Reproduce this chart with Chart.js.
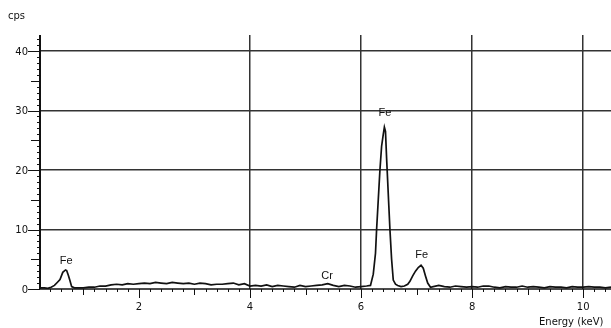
<!DOCTYPE html>
<html>
<head>
<meta charset="utf-8">
<script src="https://cdn.jsdelivr.net/npm/chart.js@4.4.1/dist/chart.umd.min.js"></script>
<style>
  html, body { margin: 0; padding: 0; background: #fff; }
  #wrap { position: relative; width: 611px; height: 328px; }
</style>
</head>
<body>
<div id="wrap"><canvas id="spec"></canvas></div>
<script>
// spectrum (energy in keV, counts in cps)
const energy = [
  0.22, 0.30, 0.36, 0.42, 0.48, 0.53, 0.58, 0.63, 0.68, 0.70, 0.73, 0.76, 0.79, 0.84, 0.90,
  1.00, 1.10, 1.20, 1.30, 1.40, 1.50, 1.60, 1.70, 1.80, 1.90, 2.00,
  2.10, 2.20, 2.30, 2.40, 2.50, 2.60, 2.70, 2.80, 2.90, 3.00,
  3.10, 3.20, 3.30, 3.40, 3.50, 3.60, 3.70, 3.80, 3.90, 4.00,
  4.10, 4.20, 4.30, 4.40, 4.50, 4.60, 4.70, 4.80, 4.90, 5.00,
  5.10, 5.20, 5.30, 5.40, 5.50, 5.60, 5.70, 5.80, 5.90, 6.00, 6.10,
  6.17, 6.22, 6.26, 6.28, 6.31, 6.34, 6.37, 6.40, 6.42, 6.44, 6.46, 6.47, 6.50, 6.52, 6.55, 6.58,
  6.62, 6.66, 6.72, 6.78, 6.84, 6.88, 6.93, 6.98, 7.03, 7.08, 7.12, 7.16, 7.20, 7.25, 7.30,
  7.40, 7.50, 7.60, 7.70, 7.80, 7.90, 8.00, 8.10, 8.20, 8.30, 8.40, 8.50, 8.60, 8.70, 8.80,
  8.90, 9.00, 9.10, 9.20, 9.30, 9.40, 9.50, 9.60, 9.70, 9.80, 9.90, 10.00, 10.10, 10.20, 10.30, 10.40, 10.50
];
const counts = [
  0.2, 0.2, 0.1, 0.3, 0.6, 1.1, 1.6, 2.8, 3.2, 3.1, 2.3, 1.4, 0.4, 0.2, 0.2,
  0.2, 0.3, 0.3, 0.5, 0.5, 0.7, 0.8, 0.7, 0.9, 0.8, 0.9,
  1.0, 0.9, 1.1, 1.0, 0.9, 1.1, 1.0, 0.9, 1.0, 0.8,
  1.0, 0.9, 0.7, 0.8, 0.8, 0.9, 1.0, 0.7, 0.9, 0.5,
  0.6, 0.5, 0.7, 0.4, 0.6, 0.5, 0.4, 0.3, 0.6, 0.4,
  0.5, 0.6, 0.7, 0.9, 0.6, 0.4, 0.6, 0.5, 0.3, 0.4, 0.5,
  0.6, 2.5, 6.0, 10.0, 15.0, 20.0, 24.0, 26.0, 27.2, 26.5, 22.0, 20.0, 14.0, 10.0, 5.0, 1.5,
  0.8, 0.6, 0.4, 0.5, 0.8, 1.3, 2.2, 3.0, 3.6, 4.0, 3.5, 2.2, 1.0, 0.3, 0.4,
  0.6, 0.4, 0.3, 0.5, 0.4, 0.3, 0.4, 0.3, 0.5, 0.5, 0.3, 0.2, 0.4, 0.3, 0.3,
  0.5, 0.3, 0.4, 0.3, 0.2, 0.4, 0.3, 0.3, 0.2, 0.4, 0.3, 0.3, 0.4, 0.3, 0.3, 0.2, 0.3
];

const xTickLabels = [2, 4, 6, 8, 10];
const yTickLabels = [0, 10, 20, 30, 40];

// peak annotations: text, energy, count level of the label
const peakNames = ["Fe", "Cr", "Fe", "Fe"];
const peakEnergy = [0.69, 5.39, 6.43, 7.09];
const peakLevel = [4.7, 2.2, 29.6, 5.7];

const points = energy.map((e, i) => ({ x: e, y: counts[i] }));

// draws axes, ticks, labels on top of the library's scales
const axesPlugin = {
  id: "axes",
  afterDraw(chart) {
    const ctx = chart.ctx;
    const xs = chart.scales.x;
    const ys = chart.scales.y;
    const area = chart.chartArea;
    ctx.save();
    ctx.strokeStyle = "#111";
    ctx.fillStyle = "#111";

    // y axis line + ticks
    ctx.lineWidth = 2;
    ctx.beginPath();
    ctx.moveTo(area.left, area.top);
    ctx.lineTo(area.left, area.bottom);
    ctx.stroke();
    ctx.lineWidth = 1;
    for (let v = 0; v <= 42; v++) {
      const py = Math.round(ys.getPixelForValue(v)) + 0.5;
      let len = 3;
      if (v % 10 === 0) len = 12;
      else if (v % 5 === 0) len = 9;
      ctx.beginPath();
      ctx.moveTo(area.left - len, py);
      ctx.lineTo(area.left, py);
      ctx.stroke();
    }

    // x axis line + ticks
    ctx.lineWidth = 1.5;
    ctx.beginPath();
    ctx.moveTo(area.left, area.bottom);
    ctx.lineTo(area.right, area.bottom);
    ctx.stroke();
    ctx.lineWidth = 1;
    for (let k = 2; k <= 52; k++) {
      const v = k / 5;
      if (v < xs.min) continue;
      const px = Math.round(xs.getPixelForValue(v)) + 0.5;
      let len = 3;
      if (k % 10 === 0) len = 9;
      else if (k % 5 === 0) len = 6;
      ctx.beginPath();
      ctx.moveTo(px, area.bottom);
      ctx.lineTo(px, area.bottom + len);
      ctx.stroke();
    }

    // tick labels
    ctx.font = "10px 'DejaVu Sans'";
    ctx.textBaseline = "middle";
    ctx.textAlign = "right";
    yTickLabels.forEach(v => {
      ctx.fillText(String(v), area.left - 12, ys.getPixelForValue(v) + 1);
    });
    ctx.textAlign = "center";
    ctx.textBaseline = "top";
    xTickLabels.forEach(v => {
      ctx.fillText(String(v), xs.getPixelForValue(v), area.bottom + 13);
    });

    // axis titles
    ctx.textAlign = "left";
    ctx.fillText("cps", 8, 11);
    ctx.fillText("Energy (keV)", 539, 317);

    // peak names
    ctx.font = "11px 'Liberation Sans'";
    ctx.textBaseline = "middle";
    ctx.textAlign = "center";
    peakNames.forEach((t, i) => {
      ctx.fillText(t, xs.getPixelForValue(peakEnergy[i]), ys.getPixelForValue(peakLevel[i]));
    });
    ctx.restore();
  }
};

new Chart(document.getElementById("spec"), {
  type: "scatter",
  data: {
    datasets: [{
      data: points,
      showLine: true,
      borderColor: "#111",
      borderWidth: 1.7,
      pointRadius: 0,
      tension: 0
    }]
  },
  plugins: [axesPlugin],
  options: {
    responsive: true,
    maintainAspectRatio: false,
    animation: false,
    layout: { padding: { left: 40, top: 35, right: 0, bottom: 39 } },
    plugins: { legend: { display: false }, tooltip: { enabled: false } },
    scales: {
      x: {
        type: "linear",
        min: 0.22,
        max: 10.5,
        ticks: { display: false },
        border: { display: false },
        grid: {
          drawTicks: false,
          lineWidth: 1.5,
          color: ctx => (ctx.tick && ctx.tick.value >= 4 ? "#333" : "rgba(0,0,0,0)")
        },
        afterBuildTicks: s => { s.ticks = xTickLabels.map(v => ({ value: v })); }
      },
      y: {
        type: "linear",
        min: 0,
        max: 42.7,
        ticks: { display: false },
        border: { display: false },
        grid: {
          drawTicks: false,
          lineWidth: 1.5,
          color: ctx => (ctx.tick && ctx.tick.value > 0 ? "#333" : "rgba(0,0,0,0)")
        },
        afterBuildTicks: s => { s.ticks = yTickLabels.map(v => ({ value: v })); }
      }
    }
  }
});
</script>
</body>
</html>
